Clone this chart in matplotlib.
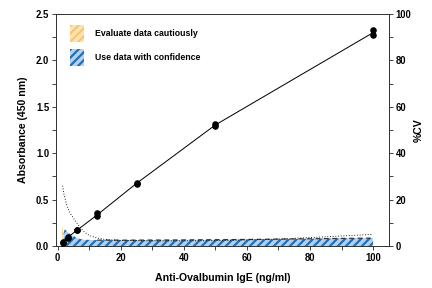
import matplotlib
matplotlib.use("Agg")
import matplotlib.pyplot as plt
from matplotlib.patches import Patch
from matplotlib.ticker import MultipleLocator

plt.rcParams['font.family'] = ['Liberation Sans', 'DejaVu Sans']
plt.rcParams['font.weight'] = 'bold'
plt.rcParams['hatch.linewidth'] = 2.2

# standard curve (duplicates)
conc = [1.5625, 3.125, 6.25, 12.5, 25, 50, 100]
abs_rep1 = [0.035, 0.09, 0.17, 0.32, 0.67, 1.29, 2.27]
abs_rep2 = [0.04, 0.095, 0.175, 0.35, 0.68, 1.32, 2.33]

# %CV (dotted curve)
cv_x = [1.56, 2, 3, 4, 6, 8, 10, 12.5, 15, 20, 30, 40, 50, 60, 70, 80, 90, 100]
cv_y = [26, 22, 17, 14, 10, 6.5, 4.5, 3.4, 2.8, 2.4, 2.2, 2.2, 2.3, 2.6, 3.0, 3.6, 4.3, 5.0]

# confidence band (blue) and caution band (orange)
conf_x = [1.8, 2.2, 4, 6, 8, 12.5, 20, 40, 60, 80, 100]
conf_y = [5.0, 7.2, 5.0, 3.5, 2.7, 2.5, 2.5, 2.6, 2.8, 3.1, 3.4]
caut_x = [1.3, 1.8]
caut_y = [8.0, 8.0]

orange_face, orange_hatch = '#fde3b0', '#f7c47a'
blue_face, blue_hatch = '#b3d1ee', '#1f6fb5'

fig = plt.figure(figsize=(6, 4), dpi=72)
ax = fig.add_axes([0.13, 0.146, 0.77, 0.805])
ax2 = ax.twinx()

# bands on the %CV axis
ax2.fill_between(caut_x, 0, caut_y, facecolor=orange_face, edgecolor=orange_hatch,
                 hatch='///', linewidth=0)
ax2.fill_between(conf_x, 0, conf_y, facecolor=blue_face, edgecolor=blue_hatch,
                 hatch='///', linewidth=0)
ax2.plot(conf_x[5:], conf_y[5:], color='#333333', lw=1.2, ls=(0, (4, 3)))
ax2.plot(cv_x, cv_y, color='black', lw=0.9, ls=(0, (1, 2)))

# standard curve
mean_abs = [(a + b) / 2 for a, b in zip(abs_rep1, abs_rep2)]
ax.plot(conc, mean_abs, color='black', lw=1.0, zorder=3)
ax.plot(conc, abs_rep1, 'o', color='black', ms=5.5, zorder=4)
ax.plot(conc, abs_rep2, 'o', color='black', ms=5.5, zorder=4)
ax.set_zorder(ax2.get_zorder() + 1)
ax.patch.set_visible(False)

ax.set_xlim(-0.5, 105)
ax.set_ylim(0, 2.5)
ax2.set_ylim(0, 100)

ax.xaxis.set_major_locator(MultipleLocator(20))
ax.xaxis.set_minor_locator(MultipleLocator(10))
ax.yaxis.set_major_locator(MultipleLocator(0.5))
ax.yaxis.set_minor_locator(MultipleLocator(0.25))
ax.yaxis.set_major_formatter(plt.FormatStrFormatter('%.1f'))
ax2.yaxis.set_major_locator(MultipleLocator(20))
ax2.yaxis.set_minor_locator(MultipleLocator(10))

for a in (ax, ax2):
    a.tick_params(which='both', direction='out', labelsize=9.5, width=0.9,
                  color='#333333', pad=3)
    a.tick_params(which='major', length=4)
    a.tick_params(which='minor', length=4)
    for s in a.spines.values():
        s.set_linewidth(0.9)
        s.set_color('#333333')
    for lab in a.get_xticklabels() + a.get_yticklabels():
        lab.set_fontweight('bold')

ax.set_xlabel('Anti-Ovalbumin IgE (ng/ml)', fontsize=10.5, fontweight='bold', labelpad=10)
ax.set_ylabel('Absorbance (450 nm)', fontsize=10.5, fontweight='bold', labelpad=8)
ax2.set_ylabel('%CV', fontsize=10.5, fontweight='bold', rotation=90, labelpad=2)

handles = [Patch(facecolor=orange_face, edgecolor=orange_hatch, hatch='///', lw=0),
           Patch(facecolor=blue_face, edgecolor=blue_hatch, hatch='///', lw=0)]
leg = ax.legend(handles, ['Evaluate data cautiously', 'Use data with confidence'],
                loc='upper left', bbox_to_anchor=(0.042, 0.953), frameon=False,
                borderpad=0, borderaxespad=0, handlelength=1.6, handleheight=2.6,
                labelspacing=0.8, handletextpad=1.2,
                prop={'weight': 'bold', 'size': 8.8})

fig.savefig('out.png', dpi=72)
